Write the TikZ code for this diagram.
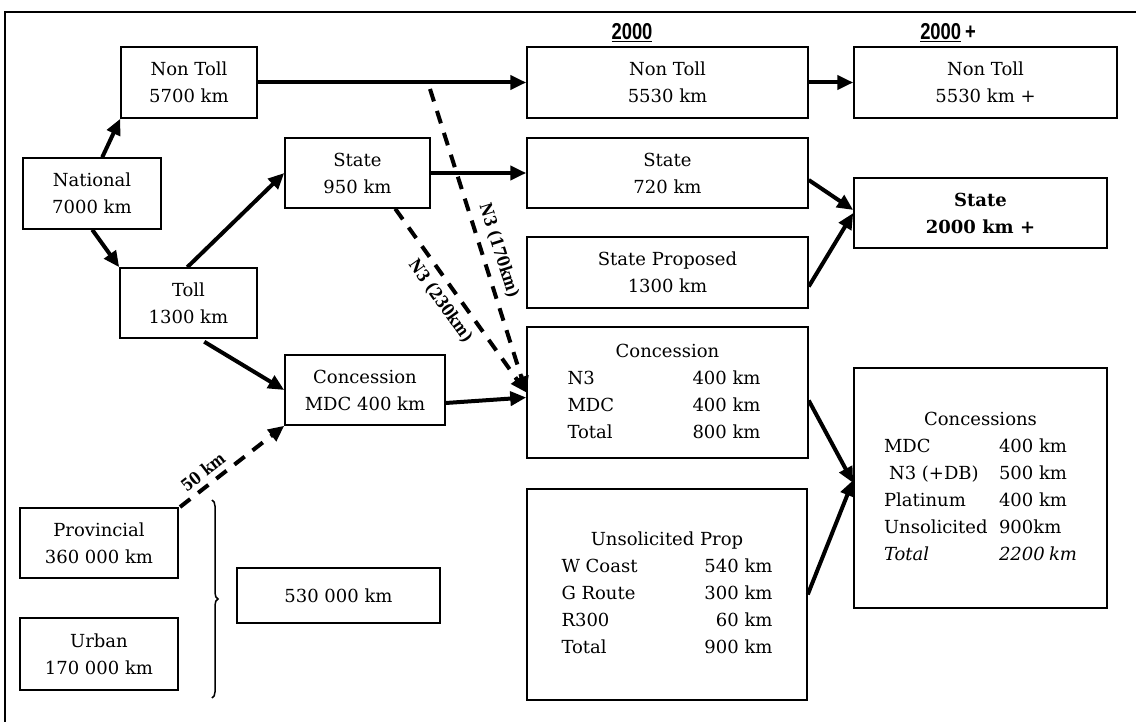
\documentclass[tikz,border=0pt]{standalone}
\usepackage{fontspec}
\setmainfont{DejaVu Serif}
\newfontfamily\headfont[FakeStretch=0.8]{Liberation Sans}
\newfontfamily\tagfont[FakeStretch=0.85]{DejaVu Serif}
\usepackage{array}
\usetikzlibrary{arrows.meta,calc,decorations.pathreplacing}
\begin{document}
\begin{tikzpicture}[x=1pt,y=-1pt,
  box/.style={draw, line width=1.5pt, inner sep=0pt, align=center,
    font=\fontsize{18}{27}\selectfont},
  flow/.style={line width=4pt, -{Triangle[length=16pt,width=14pt]}},
  dflow/.style={flow, dash pattern=on 13pt off 10pt},
  tag/.style={font=\tagfont\bfseries\fontsize{17}{17}\selectfont, sloped, inner sep=2pt},
  head/.style={font=\headfont\bfseries\fontsize{23}{23}\selectfont, inner sep=0pt}]
\fill[white] (0,0) rectangle (1136,722);
\useasboundingbox (0,0) rectangle (1136,722);
% frame
\draw[line width=1.5pt] (5,722) -- (5,12) -- (1136,12);

% column headings
\node[head] (h2000) at (632,33) {\underline{2000}};
\node[head] (h2000p) at (948,33) {\underline{2000}\,+};

% national network split
\node[box, minimum width=138pt, minimum height=71pt] (nat) at (92,193.5) {National\\7000 km};
\node[box, minimum width=136pt, minimum height=71pt] (nt1) at (189,82.5) {Non Toll\\5700 km};
\node[box, minimum width=137pt, minimum height=70pt] (toll) at (188.5,303) {Toll\\1300 km};
\node[box, minimum width=145pt, minimum height=70pt] (st1) at (357.5,173) {State\\950 km};
\node[box, minimum width=160pt, minimum height=70pt] (con1) at (365,390) {Concession\\MDC 400 km};

% 2000 column
\node[box, minimum width=281pt, minimum height=71pt] (nt2) at (667.5,82.5) {Non Toll\\5530 km};
\node[box, minimum width=281pt, minimum height=70pt] (st2) at (667.5,173) {State\\720 km};
\node[box, minimum width=281pt, minimum height=71pt] (stp) at (667.5,272.5) {State Proposed\\1300 km};
\node[box, minimum width=281pt, minimum height=131pt] (con2) at (667.5,392.5) {%
  \begin{tabular}{@{}p{125pt}@{}p{75pt}@{}}
  \multicolumn{2}{c}{Concession}\\
  N3 & 400 km\\
  MDC & 400 km\\
  Total & 800 km
  \end{tabular}};
\node[box, minimum width=280pt, minimum height=211pt] (uns) at (667,594.5) {%
  \begin{tabular}{@{}p{140pt}@{}>{\raggedleft\arraybackslash}p{71pt}@{}}
  \multicolumn{2}{c}{Unsolicited Prop}\\
  W Coast & 540 km\\
  G Route & 300 km\\
  R300 & 60 km\\
  Total & 900 km
  \end{tabular}};

% 2000+ column
\node[box, minimum width=263pt, minimum height=71pt] (nt3) at (985.5,82.5) {Non Toll\\5530 km +};
\node[box, minimum width=253pt, minimum height=70pt, font=\bfseries\fontsize{18}{27}\selectfont] (st3) at (980.5,213) {State\\2000 km +};
\node[box, minimum width=253pt, minimum height=240pt] (con3) at (980.5,488) {%
  \begin{tabular}{@{}p{115pt}@{}p{78pt}@{}}
  \multicolumn{2}{c}{Concessions}\\
  MDC & 400 km\\
  \hspace{5pt}N3 (+DB) & 500 km\\
  Platinum & 400 km\\
  Unsolicited & 900km\\
  \itshape Total & \itshape 2200 km
  \end{tabular}};

% provincial and urban roads
\node[box, minimum width=158pt, minimum height=70pt] (prov) at (99,543) {Provincial\\360 000 km};
\node[box, minimum width=158pt, minimum height=72pt] (urb) at (99,654) {Urban\\170 000 km};
\node[box, minimum width=203pt, minimum height=55pt] (tot) at (338.5,595.5) {530 000 km};
\coordinate (brtop) at (212,500);
\coordinate (brbot) at (212,698);
\draw[line width=1.5pt, decorate, decoration={brace, amplitude=6pt}] (brtop) -- (brbot);

% solid flows
\draw[flow] ($(nat.north west)+(80,0)$) -- (nt1.south west);
\draw[flow] ($(nat.south west)+(70,0)$) -- (toll.north west);
\draw[flow] ($(toll.north west)+(68,0)$) -- (st1.west);
\draw[flow] ($(toll.south west)+(85,3)$) -- (con1.west);
\draw[flow] (nt1.east) -- (nt2.west);
\draw[flow] (nt2.east) -- (nt3.west);
\draw[flow] (st1.east) -- (st2.west);
\draw[flow] ($(st2.east)+(0,7)$) -- ($(st3.west)+(0,-3)$);
\draw[flow] ($(stp.east)+(0,14)$) -- ($(st3.west)+(0,0)$);
\draw[flow] ($(con1.east)+(0,13)$) -- ($(con2.west)+(0,5)$);
\draw[flow] ($(con2.east)+(0,8)$) -- ($(con3.west)+(0,-5)$);
\draw[flow] (uns.east) -- ($(con3.west)+(0,-8)$);

% N3 re-allocations and the provincial link
\coordinate (n3a) at (430,89);
\draw[dflow] (n3a) -- (con2.west) node[tag, pos=0.55, above=5pt] {N3 (170km)};
\draw[dflow] ($(st1.south west)+(111,0)$) -- (con2.west) node[tag, pos=0.45, below=5pt] {N3 (230km)};
\coordinate (p50) at (180,507);
\draw[dflow] (p50) -- (con1.south west) node[tag, pos=0.3, above=3pt] {50 km};
\end{tikzpicture}
\end{document}
